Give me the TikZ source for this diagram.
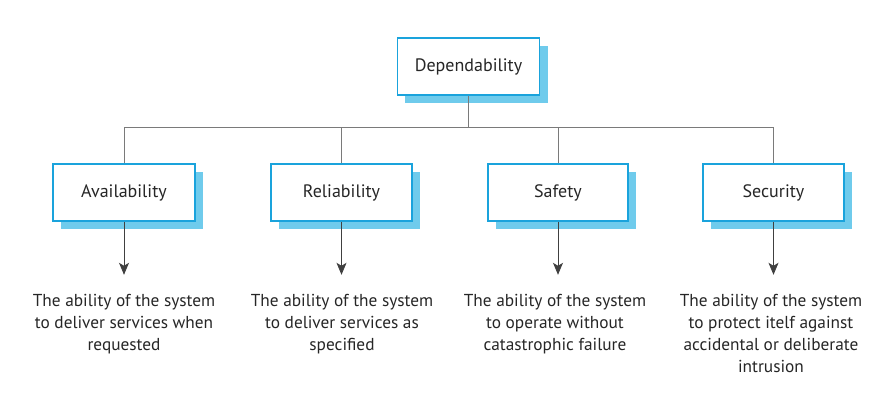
\documentclass[tikz,border=0pt]{standalone}
\usepackage{fontspec}
\setmainfont{PT Sans}
\usetikzlibrary{arrows.meta}
\definecolor{boxblue}{HTML}{1AA3DC}
\definecolor{shadowblue}{HTML}{6FCBEC}
\definecolor{linegray}{HTML}{7A7A7A}
\begin{document}
\begin{tikzpicture}[x=1pt,y=-1pt,
  cbox/.style={draw=boxblue,line width=1.6pt,fill=white,minimum width=142pt,minimum height=57pt,font=\fontsize{18}{21}\selectfont,text=black!85},
  shad/.style={fill=shadowblue},
  conn/.style={draw=linegray,line width=0.9pt},
  arr/.style={conn,-{Stealth[length=12pt,width=10pt,inset=3pt]},draw=black!75},
  desc/.style={align=center,font=\fontsize{17.3}{22}\selectfont,text=black!85,anchor=north}]
\useasboundingbox (0,0) rectangle (895,409);
% shadows
\fill[shad] (405,46) rectangle (548,103);
\fill[shad] (61,172) rectangle (203,229);
\fill[shad] (279,172) rectangle (420,229);
\fill[shad] (496,172) rectangle (636,229);
\fill[shad] (711,172) rectangle (852,229);
\node[cbox] (dep) at (468.5,66.5) {Dependability};
\node[cbox,minimum width=142pt] (av) at (124,192.5) {Availability};
\node[cbox,minimum width=141pt] (re) at (341.5,192.5) {Reliability};
\node[cbox,minimum width=140pt] (sa) at (558,192.5) {Safety};
\node[cbox,minimum width=141pt] (se) at (773.5,192.5) {Security};
\coordinate (h) at (468.5,127);
\draw[conn] (dep.south) -- (h);
\draw[conn] (av.north) |- (h);
\draw[conn] (re.north) -- (re.north |- h);
\draw[conn] (sa.north) -- (sa.north |- h);
\draw[conn] (se.north) |- (h);
\node[desc] (dav) at (124,291) {The ability of the system\\to deliver services when\\requested};
\node[desc] (dre) at (342,291) {The ability of the system\\to deliver services as\\specified};
\node[desc] (dsa) at (555,291) {The ability of the system\\to operate without\\catastrophic failure};
\node[desc] (dse) at (771,291) {The ability of the system\\to protect itelf against\\accidental or deliberate\\intrusion};
\draw[arr] (av.south) -- ++(0,53);
\draw[arr] (re.south) -- ++(0,53);
\draw[arr] (sa.south) -- ++(0,53);
\draw[arr] (se.south) -- ++(0,53);
\end{tikzpicture}
\end{document}
